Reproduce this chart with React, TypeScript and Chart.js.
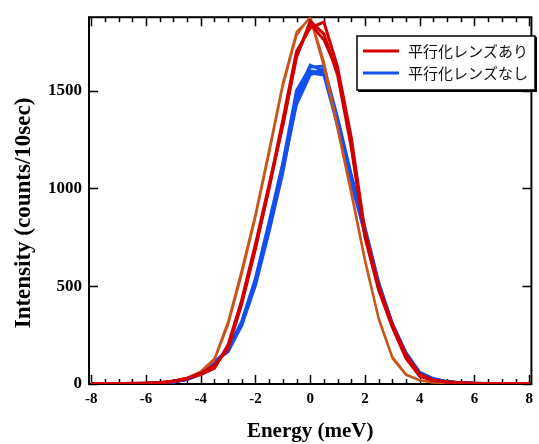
import React, { useEffect, useRef } from "react";
import { Chart, registerables } from "chart.js";

Chart.register(...registerables);

const energy = [-8, -7.5, -7, -6.5, -6, -5.5, -5, -4.5, -4, -3.5, -3, -2.5, -2, -1.5, -1, -0.5, 0, 0.5, 1, 1.5, 2, 2.5, 3, 3.5, 4, 4.5, 5, 5.5, 6, 6.5, 7, 7.5, 8];

const red1 = [2, 1, 3, 2, 4, 8, 14, 28, 50, 85, 190, 420, 700, 1000, 1330, 1680, 1840, 1760, 1600, 1230, 760, 490, 296, 140, 45, 18, 10, 5, 3, 2, 1, 2, 1];
const red2 = [1, 3, 2, 4, 3, 6, 12, 25, 55, 95, 180, 410, 690, 1010, 1350, 1700, 1820, 1850, 1620, 1260, 780, 500, 305, 150, 50, 20, 9, 6, 4, 2, 3, 1, 2];
const red3 = [3, 2, 1, 3, 5, 7, 15, 30, 48, 80, 200, 430, 715, 1020, 1320, 1670, 1855, 1790, 1580, 1210, 750, 480, 290, 130, 40, 16, 11, 6, 2, 3, 2, 1, 1];

const orange1 = [1, 2, 1, 3, 2, 5, 12, 30, 60, 120, 300, 560, 850, 1177, 1520, 1780, 1880, 1650, 1320, 990, 640, 340, 140, 50, 20, 8, 5, 3, 2, 1, 2, 1, 1];
const orange2 = [2, 1, 2, 1, 3, 6, 14, 32, 65, 130, 320, 585, 870, 1200, 1540, 1800, 1870, 1620, 1300, 970, 625, 330, 130, 45, 18, 7, 4, 2, 1, 2, 1, 1, 2];

const blue1 = [2, 1, 2, 3, 2, 5, 10, 25, 55, 110, 170, 308, 522, 800, 1105, 1480, 1600, 1590, 1340, 1050, 780, 505, 300, 150, 55, 25, 12, 6, 3, 2, 1, 2, 1];
const blue2 = [1, 2, 3, 1, 3, 6, 11, 22, 50, 105, 180, 320, 540, 830, 1130, 1500, 1620, 1625, 1360, 1070, 800, 520, 310, 160, 60, 28, 10, 5, 2, 3, 2, 1, 2];
const blue3 = [3, 2, 1, 2, 4, 4, 9, 27, 58, 115, 165, 300, 505, 780, 1080, 1450, 1590, 1580, 1320, 1030, 765, 495, 295, 145, 52, 22, 13, 7, 3, 1, 2, 2, 1];
const blue4 = [2, 2, 2, 3, 2, 5, 10, 24, 52, 108, 175, 315, 530, 815, 1120, 1470, 1630, 1600, 1350, 1060, 790, 512, 305, 155, 58, 24, 11, 6, 4, 2, 1, 1, 2];
const blue5 = [1, 3, 2, 2, 3, 5, 12, 26, 56, 112, 172, 305, 515, 790, 1095, 1430, 1580, 1610, 1330, 1040, 772, 500, 298, 148, 54, 26, 12, 5, 3, 2, 2, 1, 1];

const xTicks = [-8, -6, -4, -2, 0, 2, 4, 6, 8];
const yTicks = [0, 500, 1000, 1500];
const legendLabels = ["平行化レンズあり", "平行化レンズなし"];
const yTitle = "Intensity (counts/10sec)";
const xTitle = "Energy (meV)";

const RED = "#d00000";
const ORANGE = "#c8561c";
const BLUE = "#1450f0";
const SERIF = "'Liberation Serif', 'Times New Roman', serif";

const toPoints = (vals: number[]) => vals.map((v, i) => ({ x: energy[i], y: v }));

const framePlugin = {
  id: "frame",
  beforeDatasetsDraw(chart: any) {
    const { ctx, chartArea } = chart;
    const { left, right, top, bottom } = chartArea;
    const x = chart.scales.x;
    const y = chart.scales.y;
    ctx.save();
    ctx.strokeStyle = "#000";
    ctx.lineWidth = 2;
    ctx.strokeRect(left, top, right - left, bottom - top);
    ctx.lineWidth = 1.5;
    ctx.beginPath();
    for (let k = -16; k <= 16; k++) {
      const v = k / 2;
      const px = Math.round(x.getPixelForValue(v)) + 0.5;
      const major = k % 4 === 0;
      const len = major ? 9 : 5;
      ctx.moveTo(px, bottom);
      ctx.lineTo(px, bottom - len);
      ctx.moveTo(px, top);
      ctx.lineTo(px, top + len);
    }
    for (const v of yTicks) {
      const py = Math.round(y.getPixelForValue(v)) + 0.5;
      ctx.moveTo(left, py);
      ctx.lineTo(left + 9, py);
      ctx.moveTo(right, py);
      ctx.lineTo(right - 9, py);
    }
    ctx.stroke();
    // y-axis title
    ctx.save();
    ctx.translate(24, 213);
    ctx.rotate(-Math.PI / 2);
    ctx.font = `bold 23px ${SERIF}`;
    ctx.fillStyle = "#000";
    ctx.textAlign = "center";
    ctx.textBaseline = "middle";
    ctx.fillText(yTitle, 0, 0);
    ctx.restore();
    ctx.restore();
  },
  afterDraw(chart: any) {
    const { ctx } = chart;
    ctx.save();
    const bx = 357, by = 36, bw = 178, bh = 54;
    ctx.fillStyle = "#fff";
    ctx.fillRect(bx, by, bw, bh);
    ctx.strokeStyle = "#000";
    ctx.lineWidth = 1.5;
    ctx.strokeRect(bx, by, bw, bh);
    ctx.lineWidth = 2;
    ctx.beginPath();
    ctx.moveTo(bx + 1, by + bh + 1);
    ctx.lineTo(bx + bw + 1, by + bh + 1);
    ctx.lineTo(bx + bw + 1, by + 1);
    ctx.stroke();
    const colors = [RED, BLUE];
    ctx.font = "15px 'Noto Sans CJK JP'";
    ctx.textBaseline = "middle";
    ctx.textAlign = "left";
    legendLabels.forEach((t, i) => {
      const cy = by + 15 + i * 22;
      ctx.strokeStyle = colors[i];
      ctx.lineWidth = 3;
      ctx.beginPath();
      ctx.moveTo(bx + 6, cy);
      ctx.lineTo(bx + 42, cy);
      ctx.stroke();
      ctx.fillStyle = "#111";
      ctx.fillText(t, bx + 51, cy);
    });
    ctx.restore();
  },
};

export default function App() {
  const ref = useRef<HTMLCanvasElement>(null);
  useEffect(() => {
    if (!ref.current) return;
    const mk = (vals: number[], color: string, width: number, order: number) => ({
      data: toPoints(vals),
      borderColor: color,
      backgroundColor: color,
      borderWidth: width,
      pointRadius: 0,
      tension: 0,
      fill: false,
      order,
    });
    const chart = new Chart(ref.current, {
      type: "line",
      data: {
        datasets: [
          mk(red1, RED, 3, 0),
          mk(red2, RED, 3, 0),
          mk(red3, RED, 3, 0),
          mk(orange1, ORANGE, 2, 1),
          mk(orange2, ORANGE, 2, 1),
          mk(blue1, BLUE, 3, 2),
          mk(blue2, BLUE, 3, 2),
          mk(blue3, BLUE, 3, 2),
          mk(blue4, BLUE, 3, 2),
          mk(blue5, BLUE, 3, 2),
        ],
      },
      options: {
        animation: false,
        responsive: false,
        layout: { padding: { left: 0, right: 5, top: 8, bottom: 0 } },
        plugins: { legend: { display: false }, tooltip: { enabled: false } },
        scales: {
          x: {
            type: "linear",
            min: -8.08,
            max: 8.08,
            grid: { display: false, drawTicks: false },
            border: { display: false },
            afterBuildTicks: (s: any) => {
              s.ticks = xTicks.map((v) => ({ value: v }));
            },
            afterFit: (s: any) => {
              s.height = 60;
            },
            ticks: {
              padding: 6,
              color: "#000",
              font: { family: SERIF, size: 15, weight: "bold" },
              maxRotation: 0,
              autoSkip: false,
              callback: (v: any) => String(v),
            },
            title: {
              display: true,
              text: xTitle,
              color: "#000",
              padding: { top: 2, bottom: 0 },
              font: { family: SERIF, size: 21, weight: "bold" },
            },
          },
          y: {
            type: "linear",
            min: 0,
            max: 1875,
            grid: { display: false, drawTicks: false },
            border: { display: false },
            afterBuildTicks: (s: any) => {
              s.ticks = yTicks.map((v) => ({ value: v }));
            },
            afterFit: (s: any) => {
              s.width = 89;
            },
            ticks: {
              padding: 7,
              color: "#000",
              font: { family: SERIF, size: 17, weight: "bold" },
              autoSkip: false,
              callback: (v: any) => String(v),
            },
            title: { display: false },
          },
        },
      },
      plugins: [framePlugin],
    } as any);
    return () => chart.destroy();
  }, []);
  return (
    <div style={{ position: "absolute", left: 0, top: 0, width: 539, height: 444, background: "#fff" }}>
      <canvas ref={ref} width={539} height={444} style={{ display: "block" }} />
    </div>
  );
}
